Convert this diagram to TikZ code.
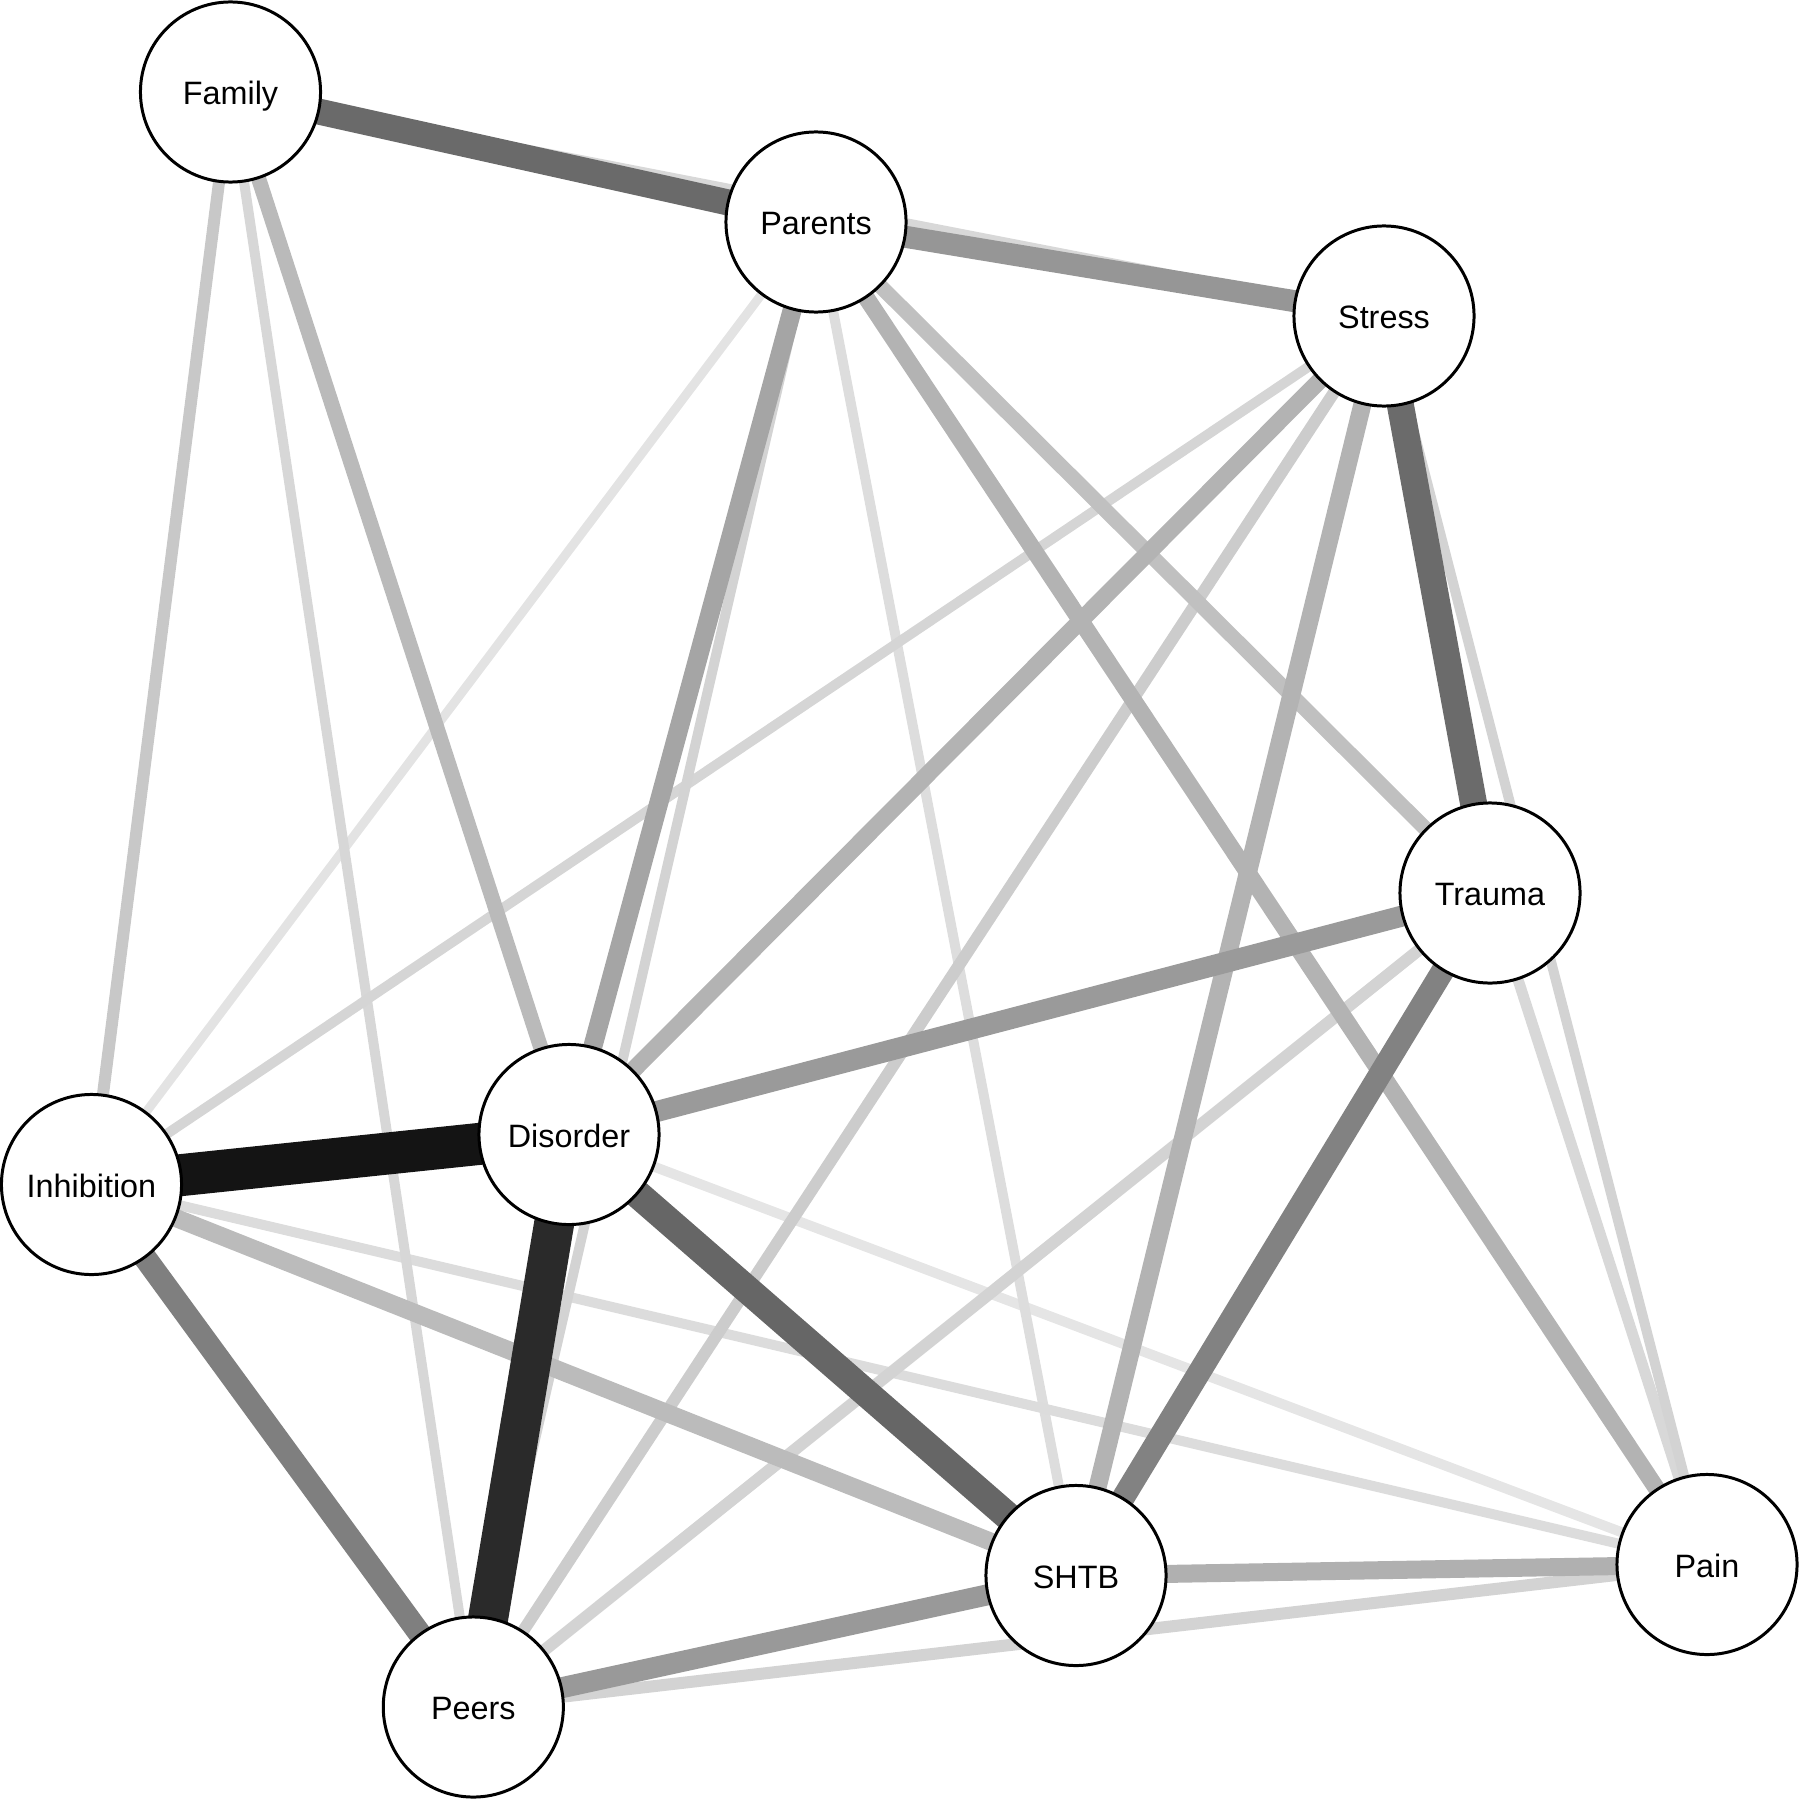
\documentclass[tikz,border=0pt]{standalone}
\usepackage{fontspec}
\setmainfont{Liberation Sans}
\pgfdeclarelayer{edges}
\pgfsetlayers{edges,main}
\begin{document}
\begin{tikzpicture}[x=0.01cm,y=-0.01cm,
  vnode/.style={circle,draw=black,fill=white,line width=0.85pt,minimum size=1.80cm,inner sep=0pt,
    text height=0.716em,text depth=0pt,
    font=\fontsize{9.2pt}{11pt}\selectfont},
  e/.style 2 args={draw=black!#1,line width=#2*0.2845pt}]
\useasboundingbox (0,0) rectangle (1800,1800);
\node[vnode] (Family) at (230.5,92) {Family};
\node[vnode] (Parents) at (816,222) {Parents};
\node[vnode] (Stress) at (1384,316) {Stress};
\node[vnode] (Trauma) at (1490,893) {Trauma};
\node[vnode] (Inhibition) at (91.5,1184.5) {Inhibition};
\node[vnode] (Disorder) at (569,1134.5) {Disorder};
\node[vnode] (SHTB) at (1076,1575.5) {SHTB};
\node[vnode] (Pain) at (1707,1564.5) {Pain};
\node[vnode] (Peers) at (473.3,1707) {Peers};
\begin{pgfonlayer}{edges}
\draw[e={10.2}{10}] (Disorder.center) -- (Pain.center);
\draw[e={11}{9}] (Parents.center) -- (Inhibition.center);
\draw[e={13.3}{10}] (Parents.center) -- (SHTB.center);
\draw[e={13.7}{10}] (Inhibition.center) -- (Pain.center);
\draw[e={15.3}{11}] (Trauma.center) -- (Pain.center);
\draw[e={15.3}{10}] (Family.center) -- (Stress.center);
\draw[e={15.7}{10}] (Family.center) -- (Peers.center);
\draw[e={16.5}{10}] (Stress.center) -- (Inhibition.center);
\draw[e={17.3}{10}] (Parents.center) -- (Peers.center);
\draw[e={17.3}{10}] (Stress.center) -- (Pain.center);
\draw[e={17.3}{12}] (Trauma.center) -- (Peers.center);
\draw[e={17.3}{12}] (Peers.center) -- (Pain.center);
\draw[e={20}{12}] (Stress.center) -- (Peers.center);
\draw[e={21.6}{12}] (Family.center) -- (Inhibition.center);
\draw[e={24.7}{15}] (Parents.center) -- (Trauma.center);
\draw[e={27.1}{15}] (Family.center) -- (Disorder.center);
\draw[e={26.7}{18}] (Inhibition.center) -- (SHTB.center);
\draw[e={29.8}{17}] (Parents.center) -- (Pain.center);
\draw[e={29.8}{17}] (Stress.center) -- (Disorder.center);
\draw[e={29.8}{18}] (Stress.center) -- (SHTB.center);
\draw[e={31}{18}] (SHTB.center) -- (Pain.center);
\draw[e={35.3}{19}] (Parents.center) -- (Disorder.center);
\draw[e={39.6}{21}] (Trauma.center) -- (Disorder.center);
\draw[e={41.2}{22}] (Parents.center) -- (Stress.center);
\draw[e={40}{21}] (SHTB.center) -- (Peers.center);
\draw[e={49}{23}] (Trauma.center) -- (SHTB.center);
\draw[e={50.2}{23}] (Inhibition.center) -- (Peers.center);
\draw[e={58.4}{26}] (Family.center) -- (Parents.center);
\draw[e={58}{27}] (Stress.center) -- (Trauma.center);
\draw[e={60}{28}] (Disorder.center) -- (SHTB.center);
\draw[e={83.5}{40}] (Disorder.center) -- (Peers.center);
\draw[e={92.2}{42}] (Disorder.center) -- (Inhibition.center);
\end{pgfonlayer}
\end{tikzpicture}
\end{document}
